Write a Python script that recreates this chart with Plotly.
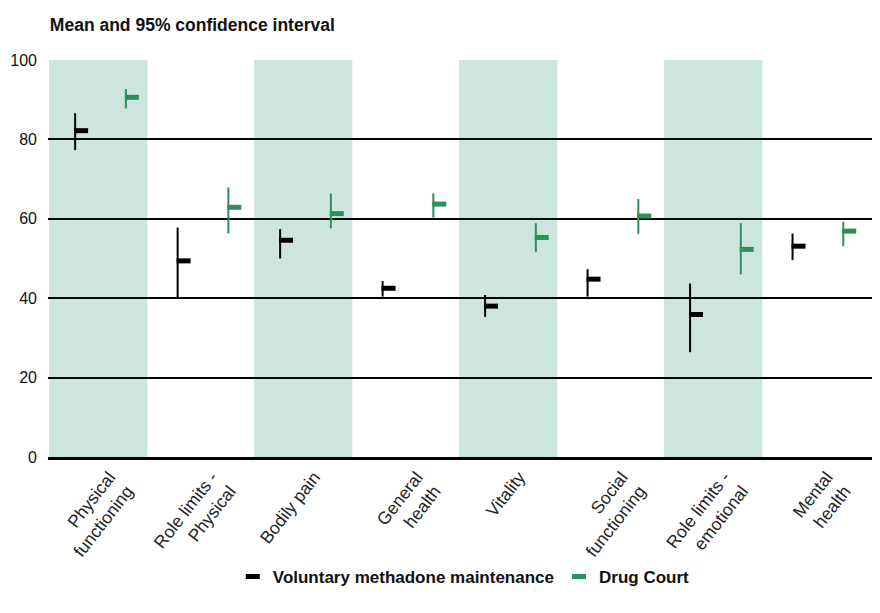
import plotly.graph_objects as go

categories = ["Physical<br>functioning", "Role limits -<br>Physical", "Bodily pain",
              "General<br>health", "Vitality", "Social<br>functioning",
              "Role limits -<br>emotional", "Mental<br>health"]

vmm_mean = [82.2, 49.4, 54.6, 42.5, 38.0, 44.8, 35.9, 53.1]
vmm_low = [77.3, 40.0, 50.0, 40.4, 35.3, 40.4, 26.4, 49.6]
vmm_high = [86.6, 57.8, 57.4, 44.3, 40.8, 47.3, 43.7, 56.3]

dc_mean = [90.6, 62.9, 61.3, 63.7, 55.3, 60.7, 52.3, 56.9]
dc_low = [87.8, 56.3, 57.6, 60.3, 51.6, 56.2, 46.0, 53.1]
dc_high = [92.7, 67.9, 66.4, 66.4, 58.9, 65.0, 58.9, 59.3]

y_ticks = [0, 20, 40, 60, 80, 100]

BLACK = "#000000"
GREEN = "#2e8f5a"
BAND = "#cce6df"
FONT = "Liberation Sans, Arial, sans-serif"

idx = list(range(len(categories)))
fig = go.Figure()

series = [
    ("<b>Voluntary methadone maintenance</b>", vmm_mean, vmm_low, vmm_high, BLACK, -0.235),
    ("<b>Drug Court</b>", dc_mean, dc_low, dc_high, GREEN, 0.26),
]
flag_dx = 0.058
for name, mean, low, high, color, off in series:
    xs = [i + off for i in idx]
    fig.add_trace(go.Scatter(
        x=xs, y=mean, mode="markers", showlegend=False, hoverinfo="skip",
        marker=dict(size=1, color="rgba(0,0,0,0)"),
        error_y=dict(type="data", symmetric=False,
                     array=[h - m for h, m in zip(high, mean)],
                     arrayminus=[m - l for m, l in zip(mean, low)],
                     color=color, thickness=2, width=0),
    ))
    fig.add_trace(go.Scatter(
        x=[x + flag_dx for x in xs], y=mean, mode="markers", name=name,
        marker=dict(symbol="line-ew", size=10, color=color,
                    line=dict(color=color, width=5)),
    ))

for i in idx[::2]:
    fig.add_shape(type="rect", xref="x", yref="y", x0=i - 0.49, x1=i + 0.47,
                  y0=0, y1=100, fillcolor=BAND, line=dict(width=0), layer="below")

fig.update_layout(
    width=872, height=605,
    margin=dict(l=40, r=7, t=52, b=156),
    paper_bgcolor="white", plot_bgcolor="white",
    font=dict(family=FONT, color="#111111"),
    title=dict(text="<b>Mean and 95% confidence interval</b>", x=0.048, xanchor="left",
               y=0.972, yanchor="middle", font=dict(size=17.5, family=FONT, color="#111111")),
    xaxis=dict(range=[-0.5, 7.55], tickmode="array", tickvals=idx, ticktext=categories,
               tickangle=-52, tickfont=dict(size=17.5, family=FONT, color="#222222"),
               ticklabelshift=10,
               showgrid=False, zeroline=False, showline=True, linecolor="black",
               linewidth=3, ticks="", automargin=False),
    yaxis=dict(range=[0, 100], tickvals=y_ticks, showgrid=True, gridcolor="black",
               gridwidth=2, zeroline=False, ticks="", ticklabelstandoff=10,
               automargin=False,
               tickfont=dict(size=16, family=FONT, color="#111111")),
    legend=dict(orientation="h", x=0.504, xanchor="center", y=-0.257, yanchor="top",
                font=dict(size=17, family=FONT, color="#111111"),
                itemwidth=30, tracegroupgap=0),
)

fig.write_html("out.html")
